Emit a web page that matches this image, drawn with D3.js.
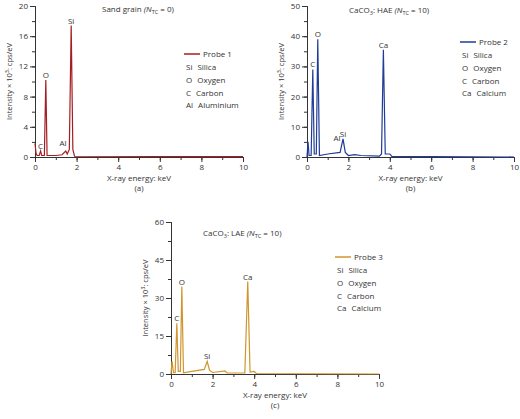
<!DOCTYPE html>
<html><head><meta charset="utf-8">
<script src="https://cdn.jsdelivr.net/npm/d3@7"></script>
<style>body{margin:0;background:#fff}text{font-family:"Open Sans",sans-serif;fill:#333}</style>
</head><body><svg id="c" width="520" height="419"></svg>
<script>
// spectra: [energy keV, intensity x10^3 cps/eV]
const probe1 = [[0,1.8],[0.05,0.5],[0.1,0.2],[0.2,0.2],[0.27,0.8],[0.32,0.2],[0.45,0.2],[0.52,10.2],[0.58,0.2],[1.0,0.2],[1.3,0.3],[1.48,0.8],[1.55,0.4],[1.65,1],[1.74,17.4],[1.82,1],[1.9,0.1],[10,0.05]]
const probe2 = [[0,0],[0.05,5],[0.1,0.5],[0.2,0.5],[0.28,29],[0.35,1],[0.45,1],[0.52,39],[0.6,0.5],[1.0,1],[1.6,1.5],[1.74,6],[1.85,1.5],[2.0,0.5],[2.3,0.8],[2.6,0.5],[3.5,0.3],[3.6,1],[3.69,35.5],[3.78,1],[4.0,1],[4.1,0.2],[10,0]]
const probe3 = [[0,0],[0.05,5],[0.12,0.5],[0.2,0.5],[0.28,20],[0.35,1],[0.45,1],[0.52,34.5],[0.6,0.5],[1.0,1],[1.6,1.8],[1.74,5],[1.85,1.5],[2.0,0.6],[2.6,1.2],[2.7,0.4],[3.55,0.4],[3.69,36.5],[3.8,0.8],[4.0,1],[4.1,0.2],[10,0]]
const peaks1 = [["C",0.27,0.8],["O",0.52,10.2],["Al",1.35,1.2],["Si",1.74,17.4]]
const peaks2 = [["C",0.28,29],["O",0.52,39],["Al",1.45,4.5],["Si",1.74,6],["Ca",3.69,35.5]]
const peaks3 = [["C",0.28,20],["O",0.52,34.5],["Si",1.74,5],["Ca",3.69,36.5]]
const legend1 = [["Si","Silica"],["O","Oxygen"],["C","Carbon"],["Al","Aluminium"]]
const legendCa = [["Si","Silica"],["O","Oxygen"],["C","Carbon"],["Ca","Calcium"]]
const xTicks = [0,2,4,6,8,10]

const svg = d3.select("#c")

function panel(o) {
  const x = d3.scaleLinear().domain([0,10]).range([o.x0, o.x1])
  const y = d3.scaleLinear().domain([0,o.ymax]).range([o.y1, o.y0])
  const g = svg.append("g")
  // minor ticks
  g.append("g").attr("transform",`translate(0,${o.y1})`)
    .call(d3.axisBottom(x).tickValues(d3.range(0,11,1)).tickSize(3).tickFormat(""))
  g.append("g").attr("transform",`translate(${o.x0},0)`)
    .call(d3.axisLeft(y).tickValues(d3.range(0,o.ymax+0.01,o.minor)).tickSize(3).tickFormat(""))
  g.append("g").attr("transform",`translate(0,${o.y1})`)
    .call(d3.axisBottom(x).tickValues(xTicks).tickSize(5).tickPadding(2))
  g.append("g").attr("transform",`translate(${o.x0},0)`)
    .call(d3.axisLeft(y).tickValues(o.yTicks).tickSize(5).tickPadding(2))
  g.selectAll(".domain,.tick line").attr("stroke","#333")
  g.selectAll(".tick text").style("font-size","8px").attr("fill","#333")
  g.append("path").datum(o.data).attr("fill","none").attr("stroke",o.color).attr("stroke-width",1.2)
    .attr("d", d3.line().x(d=>x(d[0])).y(d=>y(d[1])))
  g.selectAll(".pk").data(o.peaks).join("text").attr("class","pk")
    .attr("x",d=>x(d[1])).attr("y",d=>y(d[2])-2).attr("text-anchor","middle")
    .style("font-size","8px").text(d=>d[0])
  g.append("text").attr("x",(o.x0+o.x1)/2).attr("y",o.y1+24).attr("text-anchor","middle")
    .style("font-size","8px").text("X-ray energy: keV")
  g.append("text").attr("x",(o.x0+o.x1)/2).attr("y",o.y1+34).attr("text-anchor","middle")
    .style("font-size","8px").text(o.tag)
  const yl = g.append("text").attr("transform",`translate(${o.x0-23},${(o.y0+o.y1)/2}) rotate(-90)`)
    .attr("text-anchor","middle").style("font-size","7.5px")
  yl.append("tspan").text("Intensity × 10")
  yl.append("tspan").attr("dy",-3).style("font-size","5.5px").text("3")
  yl.append("tspan").attr("dy",3).text(": cps/eV")
  const t = g.append("text").attr("x",o.tx).attr("y",o.ty).style("font-size","8px")
  t.append("tspan").text(o.title)
  if (o.sub) { t.append("tspan").attr("dy",2).style("font-size","5.5px").text("3"); t.append("tspan").attr("dy",-2).text(o.title2) }
  t.append("tspan").style("font-style","italic").text(" (N")
  t.append("tspan").attr("dy",2).style("font-size","5.5px").text("TC")
  t.append("tspan").attr("dy",-2).text(o.ntc)
  g.append("line").attr("x1",o.lx).attr("x2",o.lx+16).attr("y1",o.ly).attr("y2",o.ly)
    .attr("stroke",o.color).attr("stroke-width",1.5)
  g.append("text").attr("x",o.lx+19).attr("y",o.ly+3).style("font-size","8px").text(o.name)
  o.legend.forEach((d,i)=>{
    const tt = g.append("text").attr("x",o.lx+2).attr("y",o.ly+16+i*12.8).style("font-size","8px")
    tt.append("tspan").text(d[0]); tt.append("tspan").attr("dx",5).text(d[1])
  })
}

panel({x0:35,x1:243,y0:6,y1:157,ymax:20,yTicks:[0,4,8,12,16,20],minor:2,data:probe1,peaks:peaks1,
  color:"#a31e22",tag:"(a)",title:"Sand grain",sub:false,ntc:" = 0)",tx:102,ty:12,lx:184,ly:54,name:"Probe 1",legend:legend1})
panel({x0:307,x1:514,y0:6,y1:157,ymax:50,yTicks:[0,10,20,30,40,50],minor:5,data:probe2,peaks:peaks2,
  color:"#1f3c96",tag:"(b)",title:"CaCO",sub:true,title2:": HAE",ntc:" = 10)",tx:349,ty:13,lx:460,ly:42,name:"Probe 2",legend:legendCa})
panel({x0:171,x1:379,y0:222,y1:374,ymax:60,yTicks:[0,15,30,45,60],minor:7.5,data:probe3,peaks:peaks3,
  color:"#d0952e",tag:"(c)",title:"CaCO",sub:true,title2:": LAE",ntc:" = 10)",tx:203,ty:236,lx:335,ly:257,name:"Probe 3",legend:legendCa})
</script></body></html>
